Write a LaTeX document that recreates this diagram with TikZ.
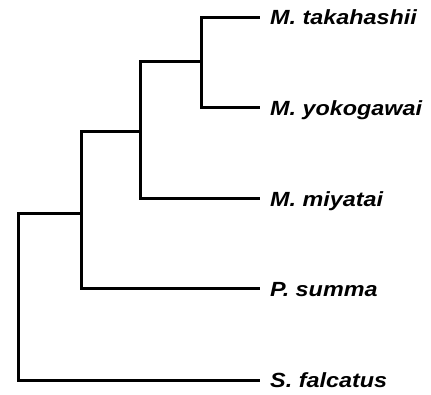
\documentclass[tikz,border=0pt]{standalone}
\usepackage{graphicx}
\usepackage{fontspec}
\newfontfamily\taxonfont{Liberation Sans}
\newcommand{\taxname}[1]{\scalebox{1.14}[1]{#1}}
\tikzset{
    branch/.style={line width=3pt, line cap=rect},
    taxon/.style={anchor=west, inner xsep=12pt, inner ysep=0pt, text height=14.5pt, text depth=0pt,
        font=\taxonfont\fontsize{20.5}{24}\selectfont\bfseries\itshape}
}
\begin{document}
\begin{tikzpicture}[x=1pt, y=-1pt]
        \useasboundingbox (0,0) rectangle (431,395);
        \node[taxon] (Mtak) at (258,17.5) {\taxname{M. takahashii}};
        \node[taxon] (Myok) at (258,108) {\taxname{M. yokogawai}};
        \node[taxon] (Mmiy) at (258,199) {\taxname{M. miyatai}};
        \node[taxon] (Psum) at (258,289) {\taxname{P. summa}};
        \node[taxon] (Sfal) at (258,380) {\taxname{S. falcatus}};
        \coordinate (N0) at (18,214);
        \coordinate (N1) at (81,214);
        \coordinate (N2) at (140,132);
        \coordinate (N3) at (201,62);
        \draw[branch] (Mtak.west) -| (N3) |- (Myok.west);
        \draw[branch] (N3) -| (N2) |- (Mmiy.west);
        \draw[branch] (N2) -| (N1) |- (Psum.west);
        \draw[branch] (N1) -- (N0) |- (Sfal.west);
    \end{tikzpicture}
\end{document}
